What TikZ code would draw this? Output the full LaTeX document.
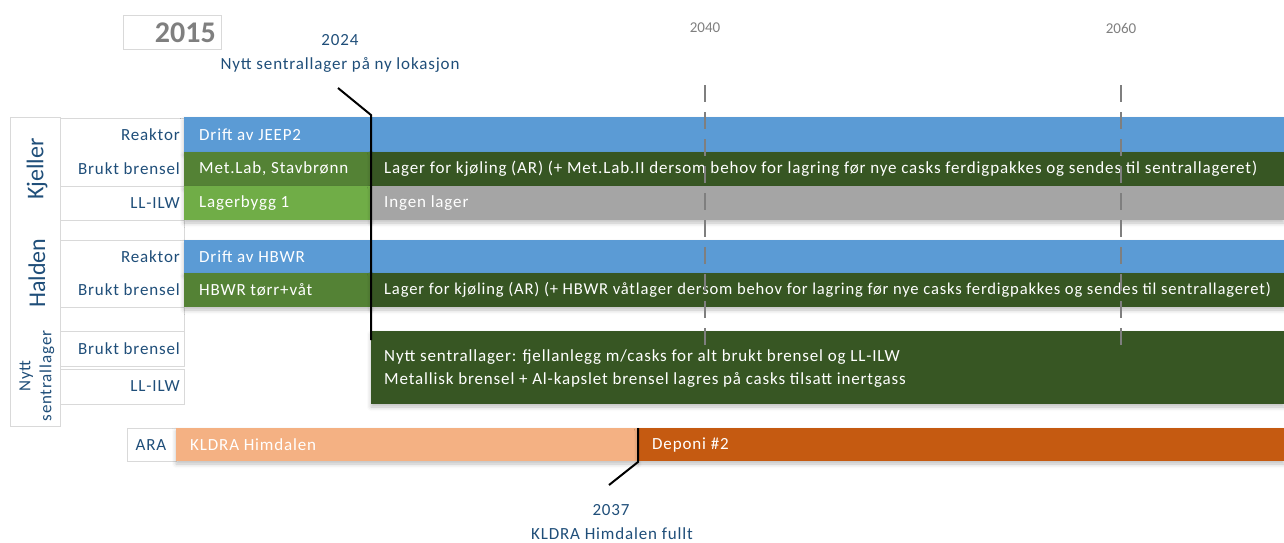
\documentclass[tikz,border=0pt]{standalone}
\usepackage{fontspec}
\setmainfont{Carlito}
\newfontfamily\spaced{Carlito}[LetterSpace=5]
\usetikzlibrary{positioning,shadows.blur}

\definecolor{barblue}{HTML}{5B9BD5}
\definecolor{bargreen}{HTML}{548235}
\definecolor{bardark}{HTML}{375623}
\definecolor{barlight}{HTML}{70AD47}
\definecolor{bargray}{HTML}{A5A5A5}
\definecolor{barpeach}{HTML}{F4B183}
\definecolor{barrust}{HTML}{C55A11}
\definecolor{labelblue}{HTML}{1F4E79}
\definecolor{markgray}{HTML}{7F7F7F}
\definecolor{cellgray}{HTML}{D9D9D9}

\tikzset{
  rowlabel/.style={anchor=east,inner sep=0pt,text=labelblue,font=\spaced\fontsize{17}{17}\selectfont},
  sitelabel/.style={rotate=90,inner sep=0pt,text=labelblue,font=\fontsize{24}{24}\selectfont},
  bartext/.style={anchor=west,inner sep=0pt,text=white,font=\spaced\fontsize{17}{17}\selectfont},
  yearlabel/.style={inner sep=0pt,text=markgray,font=\fontsize{15}{15}\selectfont},
  eventlabel/.style={inner sep=0pt,text=labelblue,font=\spaced\fontsize{17}{17}\selectfont},
  cell/.style={draw=cellgray,line width=0.8pt},
  yearmark/.style={draw=markgray,line width=2pt,dash pattern=on 17pt off 10pt},
  leader/.style={draw=black,line width=2pt},
  barshade/.style={blur shadow={shadow xshift=0pt,shadow yshift=-3pt,shadow opacity=25,shadow blur radius=4pt}}
}

\begin{document}
\begin{tikzpicture}[x=1pt,y=-1pt]
  \useasboundingbox (0,0) rectangle (1284,542);

  % 2015 box and year marks
  \draw[cell] (123,15) rectangle (221,49);
  \node[anchor=east,inner sep=0pt,text=markgray,font=\bfseries\fontsize{30}{30}\selectfont] (start) at (216,33) {2015};
  \node[yearlabel] (y2040) at (705,28) {2040};
  \node[yearlabel] (y2060) at (1121,28) {2060};

  % label column
  \draw[cell] (10,117) rectangle (60,426);
  \draw[cell] (60,118) rectangle (184,220);
  \draw[cell] (60,186) -- (184,186);
  \draw[cell] (60,220) rectangle (184,240);
  \draw[cell] (60,240) rectangle (184,307);
  \draw[cell] (60,307) rectangle (184,331);
  \draw[cell] (60,331) rectangle (184,366);
  \draw[cell] (60,369) rectangle (184,404);
  \node[sitelabel] (kjeller) at (37,169) {Kjeller};
  \node[sitelabel] (halden) at (37,273) {Halden};
  \node[sitelabel,align=center,font=\spaced\fontsize{17}{21}\selectfont] (nytt) at (37,376) {Nytt\\sentrallager};
  \node[rowlabel] (kreak) at (180,134.5) {Reaktor};
  \node[rowlabel] (kbrukt) at (180,169) {Brukt brensel};
  \node[rowlabel] (kllilw) at (180,203) {LL-ILW};
  \node[rowlabel] (hreak) at (180,256.5) {Reaktor};
  \node[rowlabel] (hbrukt) at (180,290) {Brukt brensel};
  \node[rowlabel] (nbrukt) at (180,348.5) {Brukt brensel};
  \node[rowlabel] (nllilw) at (180,386.5) {LL-ILW};

  % Kjeller
  \fill[barblue,barshade] (184,117) rectangle (1284,152);
  \fill[bargreen,barshade] (184,152) rectangle (371,186);
  \fill[bardark,barshade] (371,152) rectangle (1284,186);
  \fill[barlight,barshade] (184,186) rectangle (371,220);
  \fill[bargray,barshade] (371,186) rectangle (1284,220);
  \node[bartext] (jeep) at (199,134.5) {Drift av JEEP2};
  \node[bartext] (metlab) at (199,169) {Met.Lab, Stavbrønn};
  \node[bartext] (kkjol) at (384,169) {Lager for kjøling (AR) (+ Met.Lab.II dersom behov for lagring før nye casks ferdigpakkes og sendes til sentrallageret)};
  \node[bartext] (bygg) at (199,203) {Lagerbygg 1};
  \node[bartext] (ingen) at (384,203) {Ingen lager};

  % Halden
  \fill[barblue,barshade] (184,240) rectangle (1284,273);
  \fill[bargreen,barshade] (184,273) rectangle (371,307);
  \fill[bardark,barshade] (371,273) rectangle (1284,307);
  \node[bartext] (hbwr) at (199,256.5) {Drift av HBWR};
  \node[bartext] (tor) at (199,290) {HBWR tørr+våt};
  \node[bartext,font=\spaced\fontsize{16.6}{17}\selectfont] (hkjol) at (384,290) {Lager for kjøling (AR) (+ HBWR våtlager dersom behov for lagring før nye casks ferdigpakkes og sendes til sentrallageret)};

  % Nytt sentrallager
  \fill[bardark,barshade] (371,331) rectangle (1284,404);
  \node[bartext,align=left,font=\spaced\fontsize{17}{23}\selectfont] (fjell) at (384,368.5) {Nytt sentrallager: fjellanlegg m/casks for alt brukt brensel og LL-ILW\\Metallisk brensel + Al-kapslet brensel lagres på casks tilsatt inertgass};

  % ARA
  \draw[cell] (127,428) rectangle (176,461);
  \node[inner sep=0pt,text=labelblue,font=\spaced\fontsize{17}{17}\selectfont] (ara) at (151,445) {ARA};
  \fill[barpeach,barshade] (176,428) rectangle (638,461);
  \fill[barrust,barshade] (638,428) rectangle (1284,461);
  \node[bartext] (kldra) at (190,445) {KLDRA Himdalen};
  \node[bartext] (deponi) at (652,445) {Deponi \#2};

  % year marks
  \draw[yearmark] (705,85) -- (705,345);
  \draw[yearmark] (1121,85) -- (1121,345);

  % events
  \node[eventlabel] (e2024) at (340,40) {2024};
  \node[eventlabel] (lokasjon) at (340,65) {Nytt sentrallager på ny lokasjon};
  \coordinate (k24) at (371,115);
  \coordinate (b24) at (371,340);
  \draw[leader] (338,88) -- (k24) -- (b24);
  \node[eventlabel] (e2037) at (611,510) {2037};
  \node[eventlabel] (fullt) at (612,534) {KLDRA Himdalen fullt};
  \coordinate (t37) at (638,428);
  \coordinate (k37) at (638,462);
  \draw[leader] (t37) -- (k37) -- (609,485);
\end{tikzpicture}
\end{document}
